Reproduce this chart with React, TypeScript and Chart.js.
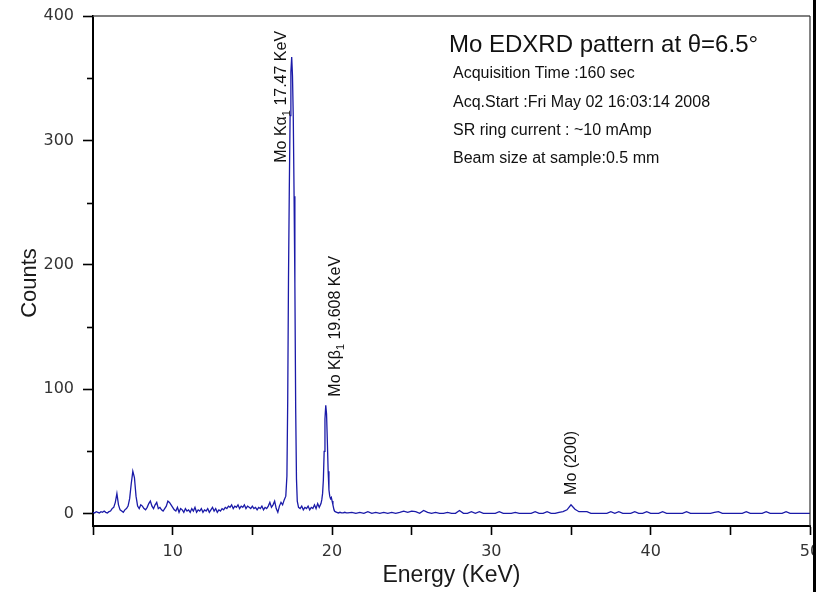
import { useEffect, useRef } from 'react';
import { Chart, registerables } from 'chart.js';

Chart.register(...registerables);

// ---- Spectrum data (energy in keV, counts) ----
// Low-energy continuum, 5.0 – 17.1 keV, 0.1 keV channels
const LOW_START = 5.0;
const LOW_STEP = 0.1;
const LOW_COUNTS = [
  1, 0.5, 1.5, 1, 0.5, 1.5, 1, 2, 1, 0.5,
  1.5, 2, 4, 5, 9, 16, 7, 3, 2, 1,
  3, 4, 6, 12, 24, 34, 29, 14, 6, 4,
  7, 6, 4, 3, 5, 8, 10, 6, 4, 7,
  9, 4, 5, 3, 2, 4, 6, 10, 9, 7,
  5, 3, 2, 5, 1, 4, 3, 1, 4, 2,
  3, 1, 4, 2, 5, 1, 3, 2, 4, 1,
  3, 2, 4, 1, 3, 5, 2, 4, 1, 3,
  2, 4, 3, 5, 4, 6, 5, 7, 4, 6,
  5, 7, 4, 6, 5, 7, 4, 6, 5, 4,
  6, 4, 5, 3, 5, 4, 6, 3, 5, 4,
  6, 9, 5, 7, 10, 4, 1, 6, 9, 7,
  11, 14,
];

// Mo Kα1 line
const KA_ENERGY = [17.17, 17.22, 17.27, 17.32, 17.37, 17.42, 17.47, 17.52, 17.57, 17.62, 17.67, 17.72, 17.77, 17.82];
const KA_COUNTS = [30, 90, 190, 260, 320, 355, 367, 352, 318, 255, 185, 85, 28, 10];

// Between Kα and Kβ, 17.9 – 19.2 keV
const MID_START = 17.9;
const MID_STEP = 0.1;
const MID_COUNTS = [5, 4, 6, 3, 5, 4, 6, 3, 5, 4, 7, 4, 8, 5];

// Mo Kβ1 line
const KB_ENERGY = [19.308, 19.358, 19.408, 19.458, 19.508, 19.558, 19.608, 19.658, 19.708, 19.758, 19.808, 19.858, 19.908, 19.958, 20.008, 20.058, 20.108, 20.158];
const KB_COUNTS = [8, 11, 16, 27, 50, 76, 87, 80, 58, 34, 19, 14, 12, 13, 10, 7, 4, 2];

// Tail after Kβ, 20.2 – 21.0 keV
const TAIL_START = 20.2;
const TAIL_STEP = 0.1;
const TAIL_COUNTS = [1.5, 1, 0.5, 1, 0.5, 0.5, 1, 0.5, 0.5];

// High-energy region, 21.25 – 50.0 keV, 0.25 keV channels
const HIGH_START = 21.25;
const HIGH_STEP = 0.25;
const HIGH_COUNTS = [
  1, 0.2, 1, 0.2,
  1.5, 0.2, 1, 0.2,
  1, 0.2, 1, 0.2,
  1, 2, 1, 2,
  1.5, 0.2, 2.5, 1,
  0.2, 1, 0.2, 0.2,
  1, 0.2, 0.2, 2.5,
  0.2, 0.2, 1.5, 0.2,
  1.5, 0.2, 0.2, 0.2,
  0.2, 1.5, 0.2, 0.2,
  0.2, 1, 0.2, 0.2,
  0.2, 0.2, 1.5, 0.2,
  0.2, 1.5, 0.2, 0.2,
  1, 1.5, 3, 7,
  3.5, 1.5, 1.5, 1.5,
  0.2, 0.2, 0.2, 0.2,
  0.2, 1.5, 0.2, 1.5,
  0.2, 0.2, 0.2, 1.5,
  0.2, 0.2, 1.5, 0.2,
  0.2, 0.2, 1.5, 0.2,
  0.2, 0.2, 0.2, 0.2,
  1.5, 0.2, 0.2, 0.2,
  0.2, 0.2, 0.2, 1,
  1.5, 0.2, 0.2, 0.2,
  0.2, 0.2, 0.2, 1.5,
  0.2, 0.2, 0.2, 0.2,
  1.5, 0.2, 0.2, 0.2,
  0.2, 1.5, 0.2, 0.2,
  0.2, 0.2, 0.2, 0.2,
];

// ---- Axes ----
const X_MIN = 5;
const X_MAX = 50;
const X_TICK_STEP = 5;
const X_LABEL_STEP = 10;
const Y_MIN = -10;
const Y_MAX = 400;
const Y_MAJOR_TICKS = [0, 100, 200, 300, 400];
const Y_MINOR_TICKS = [50, 150, 250, 350];

const X_TITLE = 'Energy (KeV)';
const Y_TITLE = 'Counts';

// ---- Annotations ----
const TITLE = 'Mo EDXRD pattern at θ=6.5°';
const INFO_LINES = [
  'Acquisition Time :160 sec',
  'Acq.Start :Fri May 02 16:03:14 2008',
  'SR ring current : ~10 mAmp',
  'Beam size at sample:0.5 mm',
];

const PEAK_NAMES = ['Mo Kα', 'Mo Kβ', 'Mo (200)'];
const PEAK_SUBSCRIPTS = ['1', '1', ''];
const PEAK_ENERGIES = [17.47, 19.608, 35.0];
const PEAK_SHOW_ENERGY = [true, true, false];

// ---- Helpers ----
const onGrid = (start: number, step: number, counts: number[]) =>
  counts.map((c, i) => ({ x: +(start + i * step).toFixed(3), y: c }));
const paired = (energies: number[], counts: number[]) =>
  energies.map((e, i) => ({ x: e, y: counts[i] }));

const SPECTRUM = [
  ...onGrid(LOW_START, LOW_STEP, LOW_COUNTS),
  ...paired(KA_ENERGY, KA_COUNTS),
  ...onGrid(MID_START, MID_STEP, MID_COUNTS),
  ...paired(KB_ENERGY, KB_COUNTS),
  ...onGrid(TAIL_START, TAIL_STEP, TAIL_COUNTS),
  ...onGrid(HIGH_START, HIGH_STEP, HIGH_COUNTS),
];

const SANS = '"Liberation Sans", Arial, Helvetica, sans-serif';
const TICK_FONT = '"DejaVu Sans", Verdana, sans-serif';

// label placement beside each peak: horizontal shift from the peak (px), label foot (counts)
const LABEL_DX = [-6, 14, 5];
const LABEL_FOOT = [282, 94, 15];

const decorations = {
  id: 'decorations',
  afterDraw(chart: any) {
    const { ctx, chartArea, scales } = chart;
    const xs = scales.x;
    const ys = scales.y;
    ctx.save();

    // top and right frame of the plot
    ctx.strokeStyle = '#555';
    ctx.lineWidth = 1.5;
    ctx.beginPath();
    ctx.moveTo(chartArea.left, chartArea.top);
    ctx.lineTo(chartArea.right, chartArea.top);
    ctx.stroke();
    ctx.strokeStyle = '#333';
    ctx.lineWidth = 1.2;
    ctx.beginPath();
    ctx.moveTo(chartArea.right, chartArea.top);
    ctx.lineTo(chartArea.right, chartArea.bottom);
    ctx.stroke();

    // minor ticks on the counts axis
    ctx.strokeStyle = '#000';
    ctx.lineWidth = 1.6;
    for (const v of Y_MINOR_TICKS) {
      const py = Math.round(ys.getPixelForValue(v)) + 0.5;
      ctx.beginPath();
      ctx.moveTo(chartArea.left, py);
      ctx.lineTo(chartArea.left - 6, py);
      ctx.stroke();
    }

    // axis titles
    ctx.fillStyle = '#1a1a1a';
    ctx.font = `23px ${SANS}`;
    ctx.textAlign = 'center';
    ctx.textBaseline = 'alphabetic';
    ctx.fillText(X_TITLE, (chartArea.left + chartArea.right) / 2, 582);
    ctx.save();
    ctx.translate(36, 283);
    ctx.rotate(-Math.PI / 2);
    ctx.font = `22px ${SANS}`;
    ctx.fillText(Y_TITLE, 0, 0);
    ctx.restore();

    // heading and acquisition details
    ctx.textAlign = 'left';
    ctx.fillStyle = '#111';
    ctx.font = `24px ${SANS}`;
    ctx.fillText(TITLE, 449, 51.5);
    ctx.font = `16px ${SANS}`;
    const infoBase = [78, 106.5, 134.5, 162.5];
    INFO_LINES.forEach((t, i) => ctx.fillText(t, 453, infoBase[i]));

    // rotated peak labels
    PEAK_NAMES.forEach((name, i) => {
      const px = xs.getPixelForValue(PEAK_ENERGIES[i]) + LABEL_DX[i];
      const py = ys.getPixelForValue(LABEL_FOOT[i]);
      const parts: { text: string; sub: boolean }[] = [{ text: name, sub: false }];
      if (PEAK_SUBSCRIPTS[i]) parts.push({ text: PEAK_SUBSCRIPTS[i], sub: true });
      if (PEAK_SHOW_ENERGY[i]) parts.push({ text: ` ${PEAK_ENERGIES[i]} KeV`, sub: false });
      ctx.save();
      ctx.translate(px, py);
      ctx.rotate(-Math.PI / 2);
      ctx.fillStyle = '#111';
      let cx = 0;
      for (const p of parts) {
        ctx.font = p.sub ? `11px ${SANS}` : `16px ${SANS}`;
        ctx.fillText(p.text, cx, p.sub ? 4 : 0);
        cx += ctx.measureText(p.text).width;
      }
      ctx.restore();
    });

    // dark edge running down the right side of the page
    ctx.fillStyle = '#000';
    ctx.fillRect(813, 0, 3, chart.height);
    ctx.restore();
  },
};

export default function App() {
  const canvasRef = useRef<HTMLCanvasElement>(null);

  useEffect(() => {
    if (!canvasRef.current) return;
    const chart = new Chart(canvasRef.current, {
      type: 'line',
      data: {
        datasets: [
          {
            data: SPECTRUM,
            borderColor: '#1a1aa8',
            borderWidth: 1.3,
            pointRadius: 0,
            tension: 0,
            fill: false,
          },
        ],
      },
      options: {
        responsive: false,
        animation: false,
        events: [],
        layout: { padding: { left: 0, right: 6, top: 16, bottom: 0 } },
        plugins: {
          legend: { display: false },
          tooltip: { enabled: false },
          title: { display: false },
        },
        scales: {
          x: {
            type: 'linear',
            position: 'bottom',
            min: X_MIN,
            max: X_MAX,
            ticks: {
              stepSize: X_TICK_STEP,
              autoSkip: false,
              maxRotation: 0,
              padding: 7,
              color: '#333',
              font: { family: TICK_FONT, size: 16 },
              callback: (v: any) => (Number(v) % X_LABEL_STEP === 0 ? String(v) : ''),
            },
            grid: {
              drawOnChartArea: false,
              drawTicks: true,
              tickLength: 9,
              tickColor: '#000',
              tickWidth: 1.6,
            },
            border: { display: true, color: '#000', width: 2 },
            afterFit: (s: any) => {
              s.height = 66;
              s.paddingLeft = 0;
              s.paddingRight = 0;
            },
          },
          y: {
            type: 'linear',
            min: Y_MIN,
            max: Y_MAX,
            afterBuildTicks: (s: any) => {
              s.ticks = Y_MAJOR_TICKS.map((v) => ({ value: v }));
            },
            ticks: {
              autoSkip: false,
              padding: 9,
              color: '#333',
              font: { family: TICK_FONT, size: 16 },
              callback: (v: any) => String(v),
            },
            grid: {
              drawOnChartArea: false,
              drawTicks: true,
              tickLength: 10,
              tickColor: '#000',
              tickWidth: 1.6,
            },
            border: { display: true, color: '#000', width: 2 },
            afterFit: (s: any) => {
              s.width = 93;
              s.paddingTop = 0;
              s.paddingBottom = 0;
            },
          },
        },
      } as any,
      plugins: [decorations],
    });
    return () => chart.destroy();
  }, []);

  return (
    <div style={{ position: 'fixed', left: 0, top: 0, width: 816, height: 592, background: '#fff' }}>
      <canvas ref={canvasRef} width={816} height={592} style={{ display: 'block' }} />
    </div>
  );
}
